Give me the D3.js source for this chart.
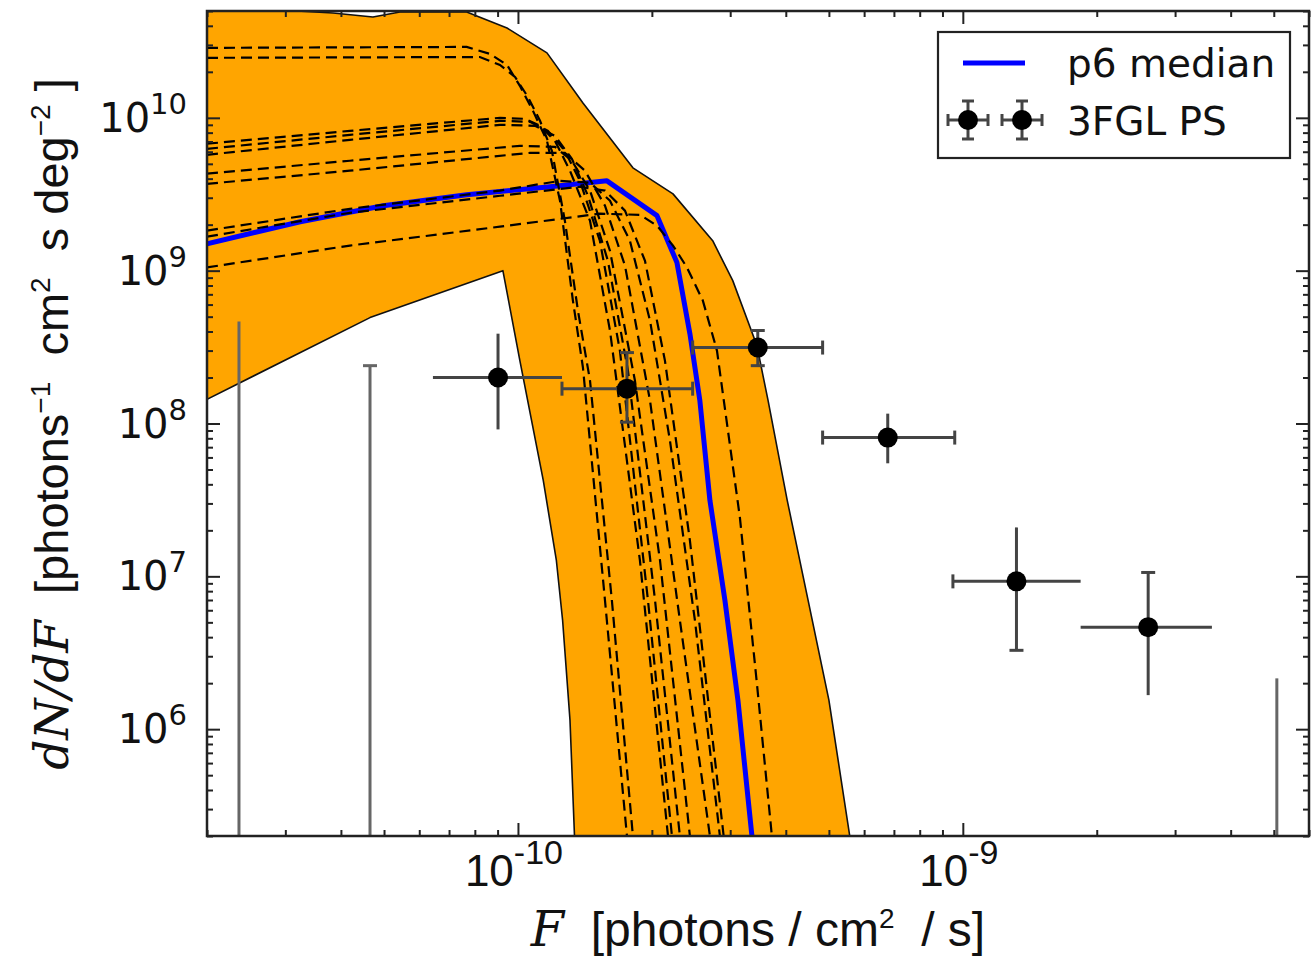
<!DOCTYPE html>
<html><head><meta charset="utf-8">
<script src="https://cdn.jsdelivr.net/npm/d3@7"></script>
<style>body{margin:0;background:#fff}svg{display:block}text{white-space:pre}</style>
</head><body>
<script>
// ---------------- DATA ----------------
// 3FGL point-source histogram (bin centre, value, bin edges, error range)
const psF    = [9.02e-11, 1.758e-10, 3.46e-10, 6.78e-10, 1.32e-9, 2.61e-9];
const psN    = [2.0e8, 1.69e8, 3.14e8, 8.09e7, 9.27e6, 4.65e6];
const psFlo  = [6.44e-11, 1.256e-10, 2.47e-10, 4.84e-10, 9.5e-10, 1.84e-9];
const psFhi  = [1.256e-10, 2.47e-10, 4.84e-10, 9.59e-10, 1.84e-9, 3.63e-9];
const psNlo  = [9.15e7, 1.02e8, 2.39e8, 5.49e7, 3.28e6, 1.67e6];
const psNhi  = [3.87e8, 2.91e8, 4.06e8, 1.16e8, 2.09e7, 1.06e7];
// empty bins: only the upper error is visible
const emptyF  = [2.36e-11, 4.65e-11, 5.08e-9];
const emptyHi = [4.65e8, 2.39e8, 2.15e6];

// p6 median
const medianF = [2.0e-11,3.24e-11,4.98e-11,7.67e-11,1.18e-10,1.585e-10,2.054e-10,2.277e-10,2.435e-10,2.564e-10,2.701e-10,2.919e-10,3.122e-10,3.357e-10,3.498e-10];
const medianN = [1.50e9,2.09e9,2.66e9,3.14e9,3.54e9,3.87e9,2.29e9,1.13e9,3.87e8,1.41e8,3.14e7,6.97e6,1.55e6,2.0e5,7.62e4];

// band envelope
const bandUpF = [2.0e-11,3.84e-11,4.72e-11,5.43e-11,7.67e-11,9.45e-11,1.162e-10,1.40e-10,1.813e-10,2.231e-10,2.74e-10,3.04e-10,3.444e-10,3.65e-10,4.03e-10,4.49e-10,5.0e-10,5.57e-10,5.87e-10];
const bandUpN = [5.40e10,4.85e10,4.57e10,4.93e10,4.93e10,3.87e10,2.66e10,1.25e10,4.71e9,3.18e9,1.57e9,8.61e8,3.24e8,1.41e8,3.14e7,6.97e6,1.55e6,2.0e5,7.62e4];
const bandLoF = [2.0e-11,4.65e-11,9.25e-11,1.01e-10,1.14e-10,1.22e-10,1.26e-10,1.309e-10,1.34e-10,1.378e-10];
const bandLoN = [1.44e8,4.93e8,1.0e9,2.58e8,4.24e7,1.27e7,5.16e6,1.15e6,2.0e5,7.62e4];

// individual dashed samples [F, dN/dF]
const sample1 = [[2.0e-11,2.87e10],[7.67e-11,2.91e10],[8.65e-11,2.62e10],[9.45e-11,2.22e10],[1.01e-10,1.62e10],[1.081e-10,1.11e10],[1.162e-10,7.08e9],[1.243e-10,2.87e9],[1.329e-10,6.37e8],[1.40e-10,2.32e8],[1.569e-10,6.97e6],[1.758e-10,2.0e5],[1.804e-10,7.62e4]];
const sample2 = [[2.0e-11,2.47e10],[8.21e-11,2.50e10],[9.11e-11,2.22e10],[9.85e-11,1.85e10],[1.053e-10,1.37e10],[1.121e-10,9.56e9],[1.192e-10,6.08e9],[1.275e-10,2.12e9],[1.364e-10,5.48e8],[1.452e-10,1.91e8],[1.626e-10,6.97e6],[1.813e-10,2.0e5],[1.861e-10,7.62e4]];
const sample3 = [[2.0e-11,6.77e9],[4.19e-11,8.22e9],[9.11e-11,1.0e10],[1.037e-10,9.85e9],[1.121e-10,8.87e9],[1.211e-10,7.08e9],[1.309e-10,4.51e9],[1.452e-10,2.12e9],[1.61e-10,4.06e8],[1.88e-10,1.27e7],[2.174e-10,2.0e5],[2.242e-10,7.62e4]];
const sample4 = [[2.0e-11,6.27e9],[4.19e-11,7.74e9],[9.11e-11,9.56e9],[1.064e-10,9.42e9],[1.168e-10,8.22e9],[1.275e-10,6.08e9],[1.378e-10,3.87e9],[1.528e-10,1.57e9],[1.695e-10,3.0e8],[1.96e-10,6.97e6],[2.219e-10,2.0e5],[2.289e-10,7.62e4]];
const sample5 = [[2.0e-11,5.73e9],[4.19e-11,7.18e9],[9.11e-11,9.0e9],[1.092e-10,8.87e9],[1.211e-10,7.63e9],[1.322e-10,5.40e9],[1.437e-10,3.09e9],[1.593e-10,1.16e9],[1.767e-10,2.22e8],[2.033e-10,6.97e6],[2.312e-10,2.0e5],[2.385e-10,7.62e4]];
const sample6 = [[2.0e-11,4.31e9],[4.19e-11,5.24e9],[1.01e-10,6.56e9],[1.211e-10,6.46e9],[1.322e-10,5.24e9],[1.452e-10,3.34e9],[1.61e-10,1.35e9],[1.832e-10,1.91e8],[2.086e-10,1.27e7],[2.435e-10,2.0e5],[2.499e-10,7.62e4]];
const sample7 = [[2.0e-11,3.70e9],[4.19e-11,4.51e9],[1.064e-10,5.90e9],[1.275e-10,5.90e9],[1.414e-10,4.51e9],[1.569e-10,2.66e9],[1.74e-10,1.08e9],[1.981e-10,1.41e8],[2.312e-10,5.16e6],[2.701e-10,2.0e5],[2.80e-10,7.62e4]];
const sample8 = [[2.0e-11,1.83e9],[4.19e-11,2.54e9],[9.11e-11,3.34e9],[1.243e-10,3.87e9],[1.452e-10,3.76e9],[1.61e-10,2.87e9],[1.785e-10,1.57e9],[1.981e-10,4.71e8],[2.196e-10,7.74e7],[2.499e-10,5.16e6],[2.844e-10,2.0e5],[2.93e-10,7.62e4]];
const sample9 = [[2.0e-11,1.05e9],[4.19e-11,1.46e9],[9.11e-11,1.94e9],[1.528e-10,2.36e9],[1.88e-10,2.32e9],[2.054e-10,1.97e9],[2.231e-10,1.46e9],[2.398e-10,1.05e9],[2.604e-10,6.37e8],[2.801e-10,3.0e8],[3.154e-10,2.43e7],[3.444e-10,2.0e6],[3.722e-10,2.0e5],[3.839e-10,7.62e4]];
const sample10 = [[2.0e-11,1.67e9],[4.19e-11,2.39e9],[9.11e-11,3.09e9],[1.378e-10,3.54e9],[1.569e-10,3.34e9],[1.74e-10,2.47e9],[1.93e-10,1.16e9],[2.14e-10,2.58e8],[2.435e-10,1.72e7],[2.90e-10,2.0e5],[2.99e-10,7.62e4]];
const samples = [sample1,sample2,sample3,sample4,sample5,sample6,sample7,sample8,sample9,sample10];

const yTickExps = [6,7,8,9,10];
const xTickExps = [-10,-9];
const legendLabels = ["p6 median","3FGL PS"];

// ---------------- LAYOUT ----------------
const W = 1313, H = 958;
const L = 207, R = 1309, T = 11, B = 836;
const x = d3.scaleLog().domain([2e-11, 6e-9]).range([L, R]);
const y = d3.scaleLog().domain([2e5, 5e10]).range([B, T]);

const svg = d3.select("body").append("svg").attr("width", W).attr("height", H);
svg.append("defs").append("clipPath").attr("id","clip")
  .append("rect").attr("x",L).attr("y",T).attr("width",R-L).attr("height",B-T);
const plot = svg.append("g").attr("clip-path","url(#clip)");

const line = d3.line().x(d=>x(d[0])).y(d=>y(d[1]));

// band
const upper = bandUpF.map((f,i)=>[f,bandUpN[i]]);
const lower = bandLoF.map((f,i)=>[f,bandLoN[i]]).reverse();
plot.append("path").attr("d", line(upper.concat(lower)) + "Z")
  .attr("fill","#FFA500").attr("stroke","#111").attr("stroke-width",1.6).attr("stroke-linejoin","round");

// median
plot.append("path").attr("d", line(medianF.map((f,i)=>[f,medianN[i]])))
  .attr("fill","none").attr("stroke","#0000FF").attr("stroke-width",5).attr("stroke-linejoin","round");

// dashed samples
samples.forEach(s=>{
  plot.append("path").attr("d", line(s)).attr("fill","none")
    .attr("stroke","#000").attr("stroke-width",2.2).attr("stroke-dasharray","11,6");
});

// error bars
const ebColor = "#444", ebW = 3, cap = 7;
// cap flags per point: [left,right,bottom,top]
const capFlags = [[0,0,0,0],[1,1,1,1],[1,1,1,1],[1,1,0,0],[1,0,1,0],[0,0,0,1]];
const eb = plot.append("g");
psF.forEach((f,i)=>{
  const cx = x(f), cy = y(psN[i]);
  eb.append("line").attr("x1",x(psFlo[i])).attr("x2",x(psFhi[i])).attr("y1",cy).attr("y2",cy)
    .attr("stroke",ebColor).attr("stroke-width",ebW);
  eb.append("line").attr("x1",cx).attr("x2",cx).attr("y1",y(psNlo[i])).attr("y2",y(psNhi[i]))
    .attr("stroke",ebColor).attr("stroke-width",ebW);
  const c = capFlags[i];
  if (c[0]) eb.append("line").attr("x1",x(psFlo[i])).attr("x2",x(psFlo[i])).attr("y1",cy-cap).attr("y2",cy+cap).attr("stroke",ebColor).attr("stroke-width",ebW);
  if (c[1]) eb.append("line").attr("x1",x(psFhi[i])).attr("x2",x(psFhi[i])).attr("y1",cy-cap).attr("y2",cy+cap).attr("stroke",ebColor).attr("stroke-width",ebW);
  if (c[2]) eb.append("line").attr("x1",cx-cap).attr("x2",cx+cap).attr("y1",y(psNlo[i])).attr("y2",y(psNlo[i])).attr("stroke",ebColor).attr("stroke-width",ebW);
  if (c[3]) eb.append("line").attr("x1",cx-cap).attr("x2",cx+cap).attr("y1",y(psNhi[i])).attr("y2",y(psNhi[i])).attr("stroke",ebColor).attr("stroke-width",ebW);
});
const emptyCaps = [0,1,0];
emptyF.forEach((f,i)=>{
  const cx = x(f);
  eb.append("line").attr("x1",cx).attr("x2",cx).attr("y1",B+5).attr("y2",y(emptyHi[i]))
    .attr("stroke","#666").attr("stroke-width",ebW);
  if (emptyCaps[i]) eb.append("line").attr("x1",cx-cap).attr("x2",cx+cap).attr("y1",y(emptyHi[i])).attr("y2",y(emptyHi[i])).attr("stroke","#666").attr("stroke-width",ebW);
});
plot.append("g").selectAll("circle").data(psF).join("circle")
  .attr("cx",d=>x(d)).attr("cy",(d,i)=>y(psN[i])).attr("r",10).attr("fill","#000");

// ---------------- AXES / TICKS ----------------
function logTicks(dom){
  const out=[], maj=[];
  const a=Math.floor(Math.log10(dom[0])), b=Math.ceil(Math.log10(dom[1]));
  for(let e=a;e<=b;e++){ for(let m=1;m<10;m++){ const v=m*Math.pow(10,e);
    if(v>=dom[0]*0.999 && v<=dom[1]*1.001){ (m===1?maj:out).push(v);} } }
  return {maj, min: out};
}
const xt = logTicks(x.domain()), yt = logTicks(y.domain());
const tickStroke = "#222";
function addAxis(gen, tr, vals, size){
  const g = svg.append("g").attr("transform",tr)
    .call(gen.tickValues(vals).tickSizeInner(size).tickSizeOuter(0).tickFormat(""));
  g.select(".domain").remove();
  g.selectAll("line").attr("stroke",tickStroke).attr("stroke-width",2);
}
addAxis(d3.axisBottom(x), `translate(0,${B})`, xt.maj, -13);
addAxis(d3.axisBottom(x), `translate(0,${B})`, xt.min, -6);
addAxis(d3.axisTop(x), `translate(0,${T})`, xt.maj, -13);
addAxis(d3.axisTop(x), `translate(0,${T})`, xt.min, -6);
addAxis(d3.axisLeft(y), `translate(${L},0)`, yt.maj, -13);
addAxis(d3.axisLeft(y), `translate(${L},0)`, yt.min, -6);
addAxis(d3.axisRight(y), `translate(${R},0)`, yt.maj, -13);
addAxis(d3.axisRight(y), `translate(${R},0)`, yt.min, -6);

svg.append("rect").attr("x",L).attr("y",T).attr("width",R-L).attr("height",B-T)
  .attr("fill","none").attr("stroke","#222").attr("stroke-width",2.5);

// tick labels
yTickExps.forEach(e=>{
  const t = svg.append("text").attr("x",187).attr("y",y(Math.pow(10,e))+14)
    .attr("text-anchor","end").attr("font-family","DejaVu Sans").attr("font-size",40).attr("fill","#111");
  t.append("tspan").text("10");
  t.append("tspan").attr("dy",-18).attr("font-size",29).text(String(e));
});
xTickExps.forEach(e=>{
  const t = svg.append("text").attr("x",x(Math.pow(10,e))-4).attr("y",886)
    .attr("text-anchor","middle").attr("font-family","Liberation Sans").attr("font-size",44).attr("fill","#111");
  t.append("tspan").text("10");
  t.append("tspan").attr("dy",-22).attr("font-size",34).text("-" + Math.abs(e));
});

// axis titles
const xl = svg.append("text").attr("x",758).attr("y",946).attr("text-anchor","middle")
  .attr("font-family","Liberation Sans").attr("font-size",48).attr("fill","#111");
xl.append("tspan").attr("font-family","DejaVu Serif").attr("font-style","italic").text("F");
xl.append("tspan").text("  [photons / cm");
xl.append("tspan").attr("dy",-18).attr("font-size",28).text("2");
xl.append("tspan").attr("dy",18).text("  / s]");

const yl = svg.append("text").attr("transform","translate(68,424) rotate(-90)").attr("text-anchor","middle")
  .attr("font-family","Liberation Sans").attr("font-size",47).attr("fill","#111");
yl.append("tspan").attr("font-family","DejaVu Serif").attr("font-style","italic").text("dN/dF");
yl.append("tspan").text("  [photons");
yl.append("tspan").attr("dy",-18).attr("font-size",28).text("\u22121");
yl.append("tspan").attr("dy",18).text("  cm");
yl.append("tspan").attr("dy",-18).attr("font-size",28).text("2");
yl.append("tspan").attr("dy",18).text("  s deg");
yl.append("tspan").attr("dy",-18).attr("font-size",28).text("\u22122");
yl.append("tspan").attr("dy",18).text(" ]");

// ---------------- LEGEND ----------------
const lg = svg.append("g");
lg.append("rect").attr("x",938).attr("y",32).attr("width",352).attr("height",126)
  .attr("fill","#fff").attr("stroke","#222").attr("stroke-width",2.2);
lg.append("line").attr("x1",963).attr("x2",1025).attr("y1",63).attr("y2",63)
  .attr("stroke","#0000FF").attr("stroke-width",5);
[968,1022].forEach(cx=>{
  const cy = 120;
  lg.append("line").attr("x1",cx-20).attr("x2",cx+20).attr("y1",cy).attr("y2",cy).attr("stroke",ebColor).attr("stroke-width",ebW);
  lg.append("line").attr("x1",cx).attr("x2",cx).attr("y1",cy-19).attr("y2",cy+19).attr("stroke",ebColor).attr("stroke-width",ebW);
  lg.append("line").attr("x1",cx-20).attr("x2",cx-20).attr("y1",cy-6).attr("y2",cy+6).attr("stroke",ebColor).attr("stroke-width",ebW);
  lg.append("line").attr("x1",cx+20).attr("x2",cx+20).attr("y1",cy-6).attr("y2",cy+6).attr("stroke",ebColor).attr("stroke-width",ebW);
  lg.append("line").attr("x1",cx-6).attr("x2",cx+6).attr("y1",cy-19).attr("y2",cy-19).attr("stroke",ebColor).attr("stroke-width",ebW);
  lg.append("line").attr("x1",cx-6).attr("x2",cx+6).attr("y1",cy+19).attr("y2",cy+19).attr("stroke",ebColor).attr("stroke-width",ebW);
  lg.append("circle").attr("cx",cx).attr("cy",cy).attr("r",10).attr("fill","#000");
});
legendLabels.forEach((s,i)=>{
  lg.append("text").attr("x",1067).attr("y",[77,135][i]).attr("font-family","DejaVu Sans")
    .attr("font-size",39).attr("fill","#111").text(s);
});
</script>
</body></html>
